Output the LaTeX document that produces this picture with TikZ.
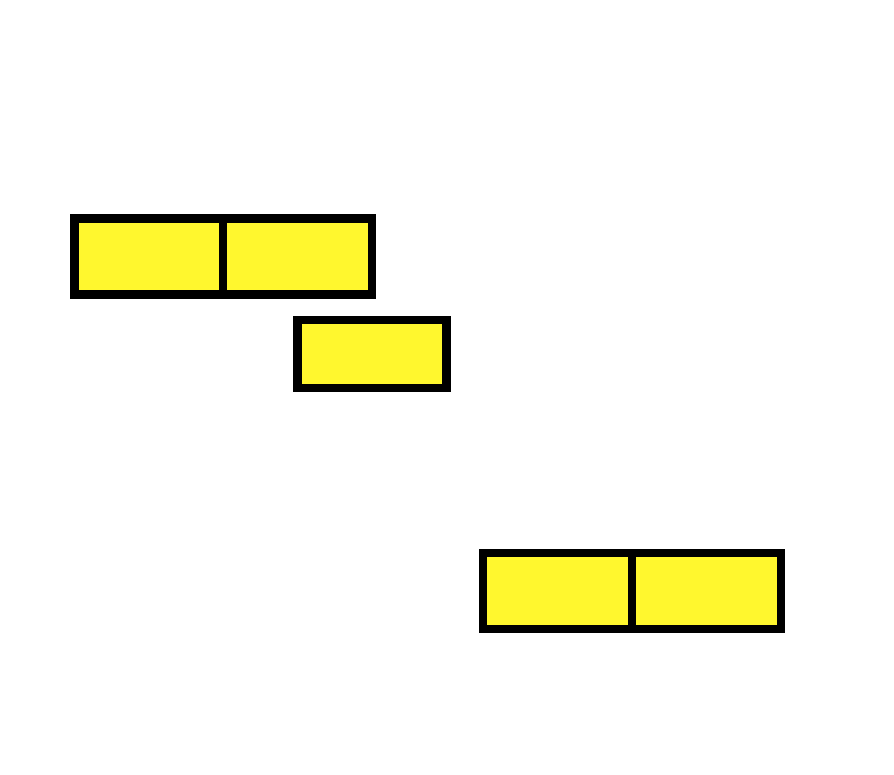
\documentclass[tikz,border=0pt]{standalone}
\definecolor{cellyellow}{RGB}{255,247,46}
\tikzset{
  cell/.style={draw=black, fill=cellyellow, line width=8.5pt, rectangle, inner sep=0pt, outer sep=0pt, minimum width=149pt, minimum height=76pt, line join=miter}
}
\begin{document}
\begin{tikzpicture}[x=1pt,y=-1pt]
\useasboundingbox (0,0) rectangle (894,774);
\node[cell] (a1) at (148.8,256.4) {};
\node[cell] (a2) at (297.5,256.4) {};
\node[cell, minimum height=67.7pt] (b) at (372.1,353.9) {};
\node[cell] (c1) at (557.4,591.2) {};
\node[cell] (c2) at (706.4,591.2) {};
\end{tikzpicture}
\end{document}
